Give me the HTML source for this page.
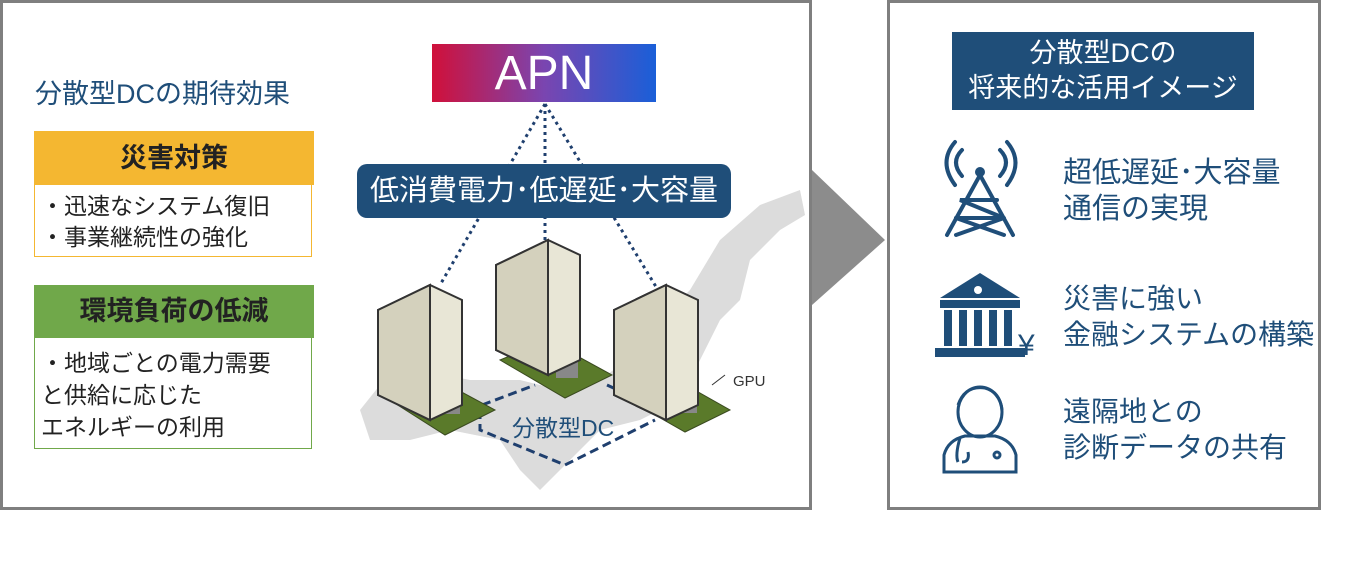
<!DOCTYPE html>
<html><head><meta charset="utf-8"><style>
body{margin:0;width:1371px;height:574px;background:#fff;position:relative;overflow:hidden;font-family:"Liberation Sans","Noto Sans CJK JP",sans-serif;}
.a{position:absolute;white-space:nowrap}
</style></head><body>
<div class="a" style="left:0;top:0;width:806px;height:504px;border:3px solid #7f7f7f"></div>
<div class="a" style="left:887px;top:0;width:428px;height:504px;border:3px solid #7f7f7f"></div>
<svg class="a" style="left:0;top:0" width="1371" height="574">
<polygon points="812,170 812,305 885,240" fill="#8c8c8c"/>
<g fill="#dcdcdc">
<polygon points="800,190 760,205 720,240 690,290 660,320 640,350 600,380 560,390 520,380 470,380 420,370 380,385 360,410 370,440 410,440 450,430 500,440 520,470 540,490 560,470 600,430 640,420 680,400 700,360 720,320 740,300 750,260 780,230 805,215"/>
</g>
<g stroke="#1f3f6e" stroke-width="3" stroke-dasharray="3,4" fill="none">
<line x1="545" y1="104" x2="440" y2="285"/>
<line x1="545" y1="104" x2="545" y2="255"/>
<line x1="545" y1="104" x2="658" y2="290"/>
</g>
<polyline points="480,410 480,430 565,465 655,420" stroke="#1f3f6e" stroke-width="3" stroke-dasharray="9,5" fill="none"/>
<line x1="482" y1="405" x2="535" y2="385" stroke="#1f3f6e" stroke-width="3" stroke-dasharray="9,5"/>
<line x1="607" y1="385" x2="650" y2="405" stroke="#1f3f6e" stroke-width="3" stroke-dasharray="9,5"/>
<g>
<polygon points="382,395 430,375 495,410 445,435" fill="#5a7a2a" stroke="#3a4a20"/>
<polygon points="500,360 548,340 612,375 565,398" fill="#5a7a2a" stroke="#3a4a20"/>
<polygon points="620,395 668,375 730,410 685,432" fill="#5a7a2a" stroke="#3a4a20"/>
<rect x="438" y="398" width="22" height="16" fill="#888"/>
<rect x="556" y="362" width="22" height="16" fill="#888"/>
<rect x="675" y="397" width="22" height="16" fill="#888"/>
</g>
<g stroke="#333" stroke-width="2">
<polygon points="378,310 430,285 462,300 462,405 430,420 378,395" fill="#e8e6d6"/>
<polygon points="378,310 430,285 430,420 378,395" fill="#d4d1bd"/>
<polygon points="496,265 548,240 580,255 580,360 548,375 496,350" fill="#e8e6d6"/>
<polygon points="496,265 548,240 548,375 496,350" fill="#d4d1bd"/>
<polygon points="614,310 666,285 698,300 698,405 666,420 614,395" fill="#e8e6d6"/>
<polygon points="614,310 666,285 666,420 614,395" fill="#d4d1bd"/>
</g>
<line x1="712" y1="385" x2="725" y2="375" stroke="#333"/>
<g stroke="#1f4e79" stroke-width="4" fill="none" stroke-linecap="round">
<polyline points="947,235 980,175 1013,235"/>
<polyline points="956,218 1004,218 960,200 997,200"/>
<line x1="956" y1="218" x2="1004" y2="235"/>
<line x1="1004" y1="218" x2="956" y2="235"/>
<path d="M962 150 Q950 162 962 176 M1000 150 Q1012 162 1000 176 M955 142 Q938 162 955 185 M1007 142 Q1024 162 1007 185"/>
</g>
<circle cx="980" cy="172" r="5" fill="#1f4e79"/>
<g fill="#1f4e79">
<polygon points="980,273 940,298 1020,298"/>
<rect x="940" y="300" width="80" height="8"/>
<rect x="944" y="310" width="8" height="36"/><rect x="959" y="310" width="8" height="36"/><rect x="974" y="310" width="8" height="36"/><rect x="989" y="310" width="8" height="36"/><rect x="1004" y="310" width="8" height="36"/>
<rect x="935" y="348" width="90" height="9"/>
</g>
<circle cx="978" cy="290" r="4" fill="#fff"/>
<text x="1018" y="355" font-size="30" fill="#1f4e79" font-family="Liberation Sans,sans-serif">¥</text>
<g stroke="#1f4e79" stroke-width="3" fill="none">
<ellipse cx="980" cy="412" rx="22" ry="25"/>
<path d="M958 405 Q965 385 985 388 Q1000 392 1002 410"/>
<path d="M944 472 L944 455 Q948 440 965 436 L995 436 Q1012 440 1016 455 L1016 472 Z"/>
<path d="M960 438 Q955 455 958 462 M962 462 Q970 462 968 452"/>
<circle cx="997" cy="455" r="3"/>
</g>
</svg>
<div class="a" style="left:35px;top:72px;font-size:27px;color:#1f4e79">分散型DCの期待効果</div>
<div class="a" style="left:34px;top:131px;width:280px;height:54px;background:#f4b731;text-align:center;line-height:54px;font-size:27px;font-weight:bold;color:#222">災害対策</div>
<div class="a" style="left:34px;top:185px;width:278px;height:72px;border:1px solid #f4b731;border-top:none;font-size:23px;line-height:31px;padding-top:6px;box-sizing:border-box;padding-left:6px;color:#222">・迅速なシステム復旧<br>・事業継続性の強化</div>
<div class="a" style="left:34px;top:285px;width:280px;height:53px;background:#70a84a;text-align:center;line-height:53px;font-size:27px;font-weight:bold;color:#222">環境負荷の低減</div>
<div class="a" style="left:34px;top:338px;width:278px;height:111px;border:1px solid #70a84a;border-top:none;font-size:23px;line-height:32px;padding-top:9px;box-sizing:border-box;padding-left:6px;color:#222">・地域ごとの電力需要<br>と供給に応じた<br>エネルギーの利用</div>
<div class="a" style="left:432px;top:44px;width:224px;height:58px;background:linear-gradient(90deg,#d0103a,#7a45b0,#1a5fd8);color:#fff;font-size:48px;text-align:center;line-height:60px">APN</div>
<div class="a" style="left:357px;top:164px;width:374px;height:54px;background:#1f4e79;border-radius:10px;color:#fff;font-size:29px;text-align:center;line-height:54px">低消費電力･低遅延･大容量</div>
<div class="a" style="left:512px;top:409px;font-size:23px;color:#1f4e79">分散型DC</div>
<div class="a" style="left:733px;top:373px;font-size:15px;color:#333">GPU</div>
<div class="a" style="left:952px;top:32px;width:302px;height:78px;background:#1f4e79;color:#fff;font-size:27px;text-align:center;line-height:35px;padding-top:4px;box-sizing:border-box">分散型DCの<br>将来的な活用イメージ</div>
<div class="a" style="left:1063px;top:155px;font-size:29px;line-height:36px;color:#1f4e79">超低遅延･大容量<br>通信の実現</div>
<div class="a" style="left:1063px;top:281px;font-size:28px;line-height:36px;color:#1f4e79">災害に強い<br>金融システムの構築</div>
<div class="a" style="left:1063px;top:394px;font-size:28px;line-height:36px;color:#1f4e79">遠隔地との<br>診断データの共有</div>
</body></html>
